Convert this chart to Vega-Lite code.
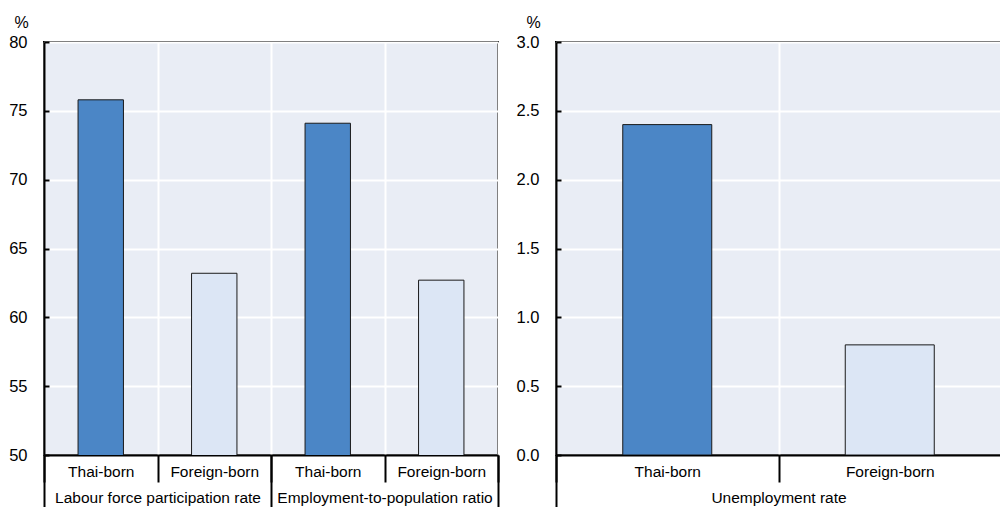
{
  "$schema": "https://vega.github.io/schema/vega-lite/v6.json",
  "background": "white",
  "padding": {"left": 7, "top": 13, "right": 0, "bottom": 0},
  "spacing": 15,
  "config": {
    "font": "Liberation Sans",
    "view": {"fill": "#e9edf5", "stroke": "black", "strokeWidth": 2},
    "axis": {
      "labelFont": "Liberation Sans",
      "labelFontSize": 15.5,
      "labelColor": "black",
      "labelLimit": 0,
      "titleFont": "Liberation Sans",
      "titleFontSize": 16,
      "titleFontWeight": "normal",
      "titleColor": "black",
      "domainColor": "black",
      "domainWidth": 2,
      "tickColor": "black",
      "tickWidth": 2,
      "gridColor": "white",
      "gridWidth": 2,
      "gridOpacity": 1
    }
  },
  "hconcat": [
    {
      "width": 454,
      "height": 413,
      "data": {
        "values": [
          {"key": "Labour force participation rate|Thai-born", "group": "Labour force participation rate", "born": "Thai-born", "value": 75.8},
          {"key": "Labour force participation rate|Foreign-born", "group": "Labour force participation rate", "born": "Foreign-born", "value": 63.2},
          {"key": "Employment-to-population ratio|Thai-born", "group": "Employment-to-population ratio", "born": "Thai-born", "value": 74.1},
          {"key": "Employment-to-population ratio|Foreign-born", "group": "Employment-to-population ratio", "born": "Foreign-born", "value": 62.7}
        ]
      },
      "layer": [
        {
          "mark": {"type": "bar", "width": {"band": 0.4}, "stroke": "#1a1a1a", "strokeWidth": 1, "clip": true},
          "encoding": {
            "x": {
              "field": "key", "type": "nominal", "sort": null,
              "scale": {"paddingInner": 0, "paddingOuter": 0},
              "axis": {
                "orient": "bottom", "title": null, "labelAngle": 0,
                "labelExpr": "split(datum.label, '|')[1]",
                "tickBand": "extent", "grid": true,
                "tickSize": 27, "labelPadding": -18
              }
            },
            "y": {
              "field": "value", "type": "quantitative",
              "scale": {"domain": [50, 80], "zero": false, "nice": false},
              "axis": {
                "title": "%", "titleAngle": 0, "titleAlign": "center", "titleBaseline": "middle",
                "titleX": -23, "titleY": -20,
                "values": [50, 55, 60, 65, 70, 75, 80],
                "labelFontSize": 16.5,
                "tickSize": -5, "labelPadding": 22, "grid": true
              }
            },
            "fill": {
              "field": "born", "type": "nominal",
              "scale": {"domain": ["Thai-born", "Foreign-born"], "range": ["#4b86c6", "#dce6f5"]},
              "legend": null
            }
          }
        },
        {
          "mark": {"type": "bar", "opacity": 0},
          "encoding": {
            "x": {
              "field": "group", "type": "nominal", "sort": null,
              "scale": {"paddingInner": 0, "paddingOuter": 0},
              "axis": {
                "orient": "bottom", "title": null, "labelAngle": 0, "domain": false, "grid": false,
                "tickBand": "extent", "tickSize": 52, "labelPadding": -17
              }
            }
          }
        }
      ],
      "resolve": {"scale": {"x": "independent"}}
    },
    {
      "width": 445,
      "height": 413,
      "data": {
        "values": [
          {"key": "Unemployment rate|Thai-born", "group": "Unemployment rate", "born": "Thai-born", "value": 2.4},
          {"key": "Unemployment rate|Foreign-born", "group": "Unemployment rate", "born": "Foreign-born", "value": 0.8}
        ]
      },
      "layer": [
        {
          "mark": {"type": "bar", "width": {"band": 0.4}, "stroke": "#1a1a1a", "strokeWidth": 1, "clip": true},
          "encoding": {
            "x": {
              "field": "key", "type": "nominal", "sort": null,
              "scale": {"paddingInner": 0, "paddingOuter": 0},
              "axis": {
                "orient": "bottom", "title": null, "labelAngle": 0,
                "labelExpr": "split(datum.label, '|')[1]",
                "tickBand": "extent", "grid": true,
                "tickSize": 27, "labelPadding": -18
              }
            },
            "y": {
              "field": "value", "type": "quantitative",
              "scale": {"domain": [0, 3], "nice": false},
              "axis": {
                "title": "%", "titleAngle": 0, "titleAlign": "center", "titleBaseline": "middle",
                "titleX": -23, "titleY": -20,
                "values": [0, 0.5, 1, 1.5, 2, 2.5, 3], "format": ".1f",
                "labelFontSize": 16.5,
                "tickSize": -5, "labelPadding": 22, "grid": true
              }
            },
            "fill": {
              "field": "born", "type": "nominal",
              "scale": {"domain": ["Thai-born", "Foreign-born"], "range": ["#4b86c6", "#dce6f5"]},
              "legend": null
            }
          }
        },
        {
          "mark": {"type": "bar", "opacity": 0},
          "encoding": {
            "x": {
              "field": "group", "type": "nominal", "sort": null,
              "scale": {"paddingInner": 0, "paddingOuter": 0},
              "axis": {
                "orient": "bottom", "title": null, "labelAngle": 0, "domain": false, "grid": false,
                "tickBand": "extent", "tickSize": 52, "labelPadding": -17
              }
            }
          }
        }
      ],
      "resolve": {"scale": {"x": "independent"}}
    }
  ]
}
